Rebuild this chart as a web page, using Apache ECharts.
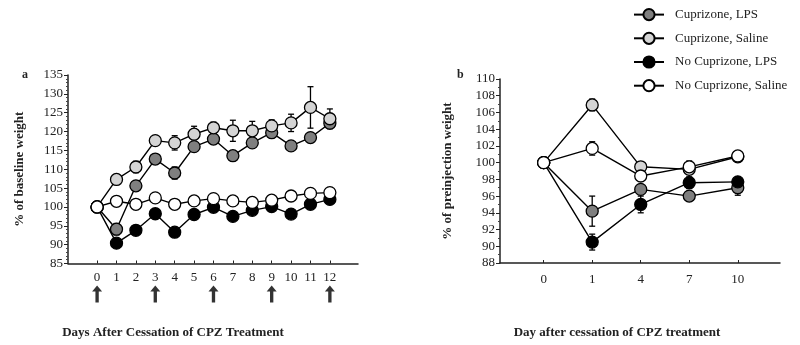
<!DOCTYPE html>
<html><head><meta charset="utf-8">
<script src="https://cdn.jsdelivr.net/npm/echarts@6/dist/echarts.min.js"></script>
<style>html,body{margin:0;padding:0;background:#fff}#c{width:800px;height:345px}</style>
</head><body><div id="c"></div>
<script>
// ---- Panel a data ----
const daysA = [0,1,2,3,4,5,6,7,8,9,10,11,12];
const aCupLPS   = [100, 94.1, 105.6, 112.7, 109.0, 116.0, 118.0, 113.6, 117.0, 119.7, 116.2, 118.4, 122.2];
const aCupSal   = [100, 107.3, 110.6, 117.6, 117.0, 119.3, 121.0, 120.2, 120.2, 121.5, 122.3, 126.4, 123.4];
const aNoLPS    = [100, 90.4, 93.8, 98.2, 93.3, 98.0, 99.9, 97.5, 99.1, 100.1, 98.1, 100.7, 102.0];
const aNoSal    = [100, 101.5, 100.7, 102.4, 100.7, 101.6, 102.2, 101.6, 101.2, 101.8, 102.9, 103.6, 103.8];
const aCupLPSErr = [0, 1.5, 1.2, 0.8, 1.6, 0.8, 0.8, 0.6, 0.8, 0.8, 0.6, 0.6, 0.8];
const aCupSalErr = [0, 0.6, 1.5, 1.2, 1.9, 2.1, 1.5, 2.8, 2.5, 1.6, 2.3, 5.5, 2.6];
const aNoLPSErr  = [0, 0.8, 0.6, 0.6, 0.9, 0.6, 0.6, 0.6, 0.6, 0.6, 0.6, 0.6, 0.6];
const aNoSalErr  = [0, 0.5, 0.5, 0.5, 0.5, 0.5, 0.5, 0.5, 0.5, 0.5, 0.5, 0.5, 0.5];
const injectionDays = [0, 3, 6, 9, 12];

// ---- Panel b data ----
const daysB = ['0','1','4','7','10'];
const bCupLPS = [100, 94.2, 96.8, 96.0, 97.0];
const bCupSal = [100, 106.9, 99.5, 99.2, 100.7];
const bNoLPS  = [100, 90.5, 95.0, 97.6, 97.7];
const bNoSal  = [100, 101.7, 98.4, 99.5, 100.8];
const bCupLPSErr = [0, 1.8, 0.5, 0.4, 0.9];
const bCupSalErr = [0, 0.7, 0.3, 1.0, 0.3];
const bNoLPSErr  = [0, 0.95, 1.0, 0.7, 0.3];
const bNoSalErr  = [0, 0.8, 0.3, 0.3, 0.3];

const names = ['Cuprizone, LPS','Cuprizone, Saline','No Cuprizone, LPS','No Cuprizone, Saline'];
const fills = ['#7f7f7f','#d4d4d4','#000000','#ffffff'];

const FONT = '"Liberation Serif", "DejaVu Serif", serif';
const TXT = '#222';

function pairs(xs, ys){ return ys.map((v,i)=>[xs[i], v]); }
function errPairs(xs, ys, es){ return ys.map((v,i)=>[xs[i], v, es[i]]).filter(d=>d[2]>0); }

function errRender(params, api){
  const x = api.value(0), y = api.value(1), e = api.value(2);
  const t = api.coord([x, y+e]), b = api.coord([x, y-e]);
  const w = 3;
  const st = {stroke:'#000', lineWidth:1.3};
  return {type:'group', children:[
    {type:'line', shape:{x1:t[0],y1:t[1],x2:b[0],y2:b[1]}, style:st},
    {type:'line', shape:{x1:t[0]-w,y1:t[1],x2:t[0]+w,y2:t[1]}, style:st},
    {type:'line', shape:{x1:b[0]-w,y1:b[1],x2:b[0]+w,y2:b[1]}, style:st}
  ]};
}

const aSets = [aCupLPS, aCupSal, aNoLPS, aNoSal];
const aErrs = [aCupLPSErr, aCupSalErr, aNoLPSErr, aNoSalErr];
const bIdx = daysB.map((d,i)=>i);
const bSets = [bCupLPS, bCupSal, bNoLPS, bNoSal];
const bErrs = [bCupLPSErr, bCupSalErr, bNoLPSErr, bNoSalErr];

const series = [];
aSets.forEach((s,k)=>{
  series.push({type:'custom', name:'errA'+k, xAxisIndex:0, yAxisIndex:0, renderItem:errRender,
    data: errPairs(daysA, s, aErrs[k]), z:1, silent:true});
});
bSets.forEach((s,k)=>{
  series.push({type:'custom', name:'errB'+k, xAxisIndex:1, yAxisIndex:1, renderItem:errRender,
    data: errPairs(bIdx, s, bErrs[k]), z:1, silent:true});
});
const order = [3,2,0,1];
order.forEach(k=>{
  const common = {type:'line', name:names[k], symbol:'circle', symbolSize:12, showSymbol:true,
    lineStyle:{color:'#000', width:1.4},
    itemStyle:{color:fills[k], borderColor:'#000', borderWidth:1.3},
    animation:false, z:3+k};
  series.push(Object.assign({}, common, {xAxisIndex:0, yAxisIndex:0, data:pairs(daysA, aSets[k])}));
  series.push(Object.assign({}, common, {xAxisIndex:1, yAxisIndex:1, data:pairs(bIdx, bSets[k])}));
});
series.push({type:'scatter', name:'inj', xAxisIndex:0, yAxisIndex:0, clip:false,
  symbol:'path://M4.5,0 L9,6 L6,6 L6,17 L3,17 L3,6 L0,6 Z', symbolSize:[10,17],
  itemStyle:{color:'#000'}, data: injectionDays.map(d=>[d, 76.9]), silent:true});

const option = {
  animation:false,
  backgroundColor:'#fff',
  title:[
    {text:'a', left:17, top:64, textStyle:{fontFamily:FONT, fontSize:12, fontWeight:'bold', color:TXT}},
    {text:'b', left:452, top:64, textStyle:{fontFamily:FONT, fontSize:12, fontWeight:'bold', color:TXT}},
    {text:'Days After Cessation of CPZ Treatment', left:168, top:321, textAlign:'center',
      textStyle:{fontFamily:FONT, fontSize:13, fontWeight:'bold', color:TXT}},
    {text:'Day after cessation of CPZ treatment', left:612, top:321, textAlign:'center',
      textStyle:{fontFamily:FONT, fontSize:13, fontWeight:'bold', color:TXT}}
  ],
  legend:{
    orient:'vertical', left:628, top:3, itemWidth:30, itemHeight:14, itemGap:10.5,
    data:names, textStyle:{fontFamily:FONT, fontSize:13, color:TXT, padding:[0,0,0,6]}
  },
  grid:[
    {left:68, right:442, top:75, bottom:81.5},
    {left:500, right:20, top:79, bottom:82}
  ],
  xAxis:[
    {type:'value', gridIndex:0, min:-1.5, max:13.45, splitLine:{show:false},
      axisLine:{show:true, onZero:false, lineStyle:{color:'#222', width:1.5}},
      axisTick:{show:true, inside:true, length:3, customValues:daysA, lineStyle:{color:'#222'}},
      axisLabel:{customValues:daysA, fontFamily:FONT, fontSize:13, color:TXT, margin:8}},
    {type:'value', gridIndex:1, min:-0.9, max:4.87, splitLine:{show:false},
      axisLine:{show:true, onZero:false, lineStyle:{color:'#222', width:1.5}},
      axisTick:{show:true, inside:true, length:3, customValues:bIdx, lineStyle:{color:'#222'}},
      axisLabel:{customValues:bIdx, formatter:(v)=>daysB[Math.round(v)], fontFamily:FONT, fontSize:13, color:TXT, margin:10}}
  ],
  yAxis:[
    {type:'value', gridIndex:0, min:85, max:135, interval:5, splitLine:{show:false},
      axisLine:{show:true, onZero:false, lineStyle:{color:'#222', width:1.5}},
      axisTick:{show:true, length:4, lineStyle:{color:'#222'}},
      minorTick:{show:true, splitNumber:5, length:2, lineStyle:{color:'#444'}},
      axisLabel:{fontFamily:FONT, fontSize:13, color:TXT, margin:5},
      name:'% of baseline weight', nameLocation:'middle', nameGap:42,
      nameTextStyle:{fontFamily:FONT, fontSize:13, fontWeight:'bold', color:TXT}},
    {type:'value', gridIndex:1, min:88, max:110, interval:2, splitLine:{show:false},
      axisLine:{show:true, onZero:false, lineStyle:{color:'#222', width:1.5}},
      axisTick:{show:true, length:4, lineStyle:{color:'#222'}},
      minorTick:{show:true, splitNumber:2, length:2, lineStyle:{color:'#444'}},
      axisLabel:{fontFamily:FONT, fontSize:13, color:TXT, margin:5},
      name:'% of preinjection weight', nameLocation:'middle', nameGap:46,
      nameTextStyle:{fontFamily:FONT, fontSize:13, fontWeight:'bold', color:TXT}}
  ],
  series:series
};
const chart = echarts.init(document.getElementById('c'), null, {renderer:'canvas'});
chart.setOption(option);
</script>
</body></html>
